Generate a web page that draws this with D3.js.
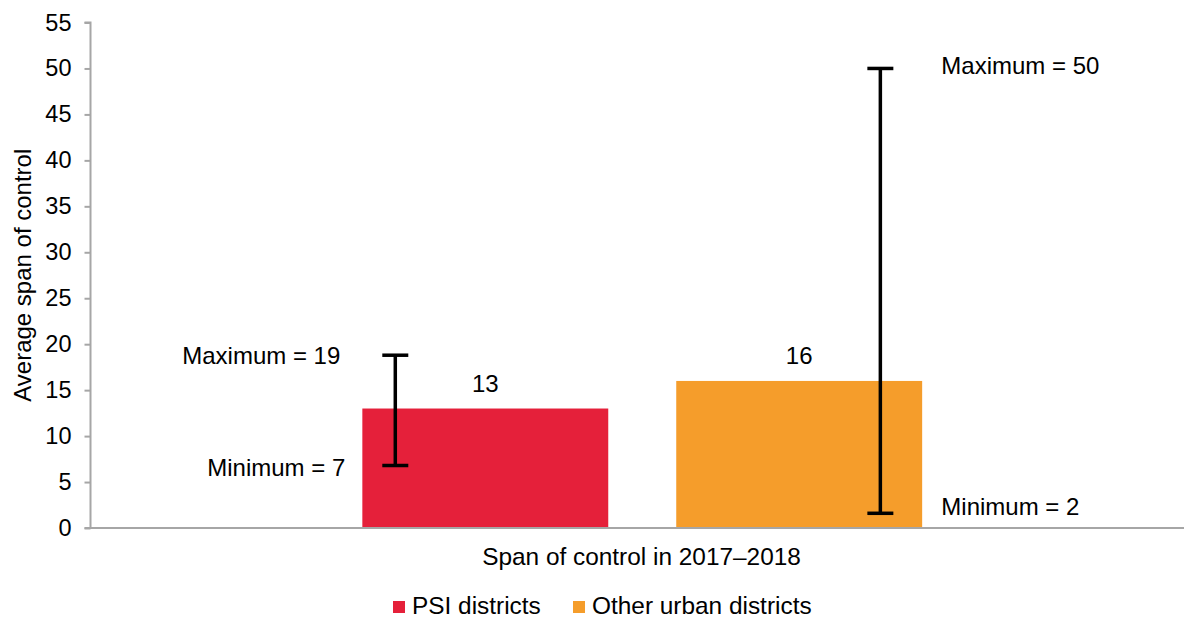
<!DOCTYPE html>
<html>
<head>
<meta charset="utf-8">
<script src="https://cdn.jsdelivr.net/npm/d3@7"></script>
<style>
  html, body { margin: 0; padding: 0; background: #fff; }
  svg text { font-family: "Liberation Sans", Arial, sans-serif; fill: #000; }
</style>
</head>
<body>
<svg id="chart" width="1184" height="619"></svg>
<script>
// ---- data ----
const categories = ["Span of control in 2017–2018"];
const seriesNames = ["PSI districts", "Other urban districts"];
const seriesValues = [13, 16];
const seriesMin = [6.8, 1.6];
const seriesMax = [18.8, 50];
const minLabels = ["Minimum = 7", "Minimum = 2"];
const maxLabels = ["Maximum = 19", "Maximum = 50"];
const yTicks = [0, 5, 10, 15, 20, 25, 30, 35, 40, 45, 50, 55];
const colors = ["#E5203A", "#F59D2B"];

const svg = d3.select("#chart");
const FS = 24;
const axisColor = "#a6a6a6";

const y = d3.scaleLinear().domain([0, 55]).range([528, 22.5]);
const x0 = d3.scaleBand().domain(categories).range([90.5, 1194]);
const x1 = d3.scaleBand().domain(seriesNames).range([0, x0.bandwidth()])
  .paddingInner(0.2166).paddingOuter(0.866);

// error bar horizontal placement within each bar (fraction of bar width)
const errFrac = [0.134, 0.83];

// y axis
const yAxis = d3.axisLeft(y).tickValues(yTicks).tickSize(6).tickPadding(13);
const gy = svg.append("g").attr("transform", "translate(90.5,0)").call(yAxis);
gy.select(".domain").attr("stroke", axisColor).attr("stroke-width", 2)
  .attr("d", `M-6,${y(55)}H0V${y(0)}`);
gy.selectAll(".tick line").attr("stroke", axisColor).attr("stroke-width", 2);
gy.selectAll(".tick text").style("font-size", "23.5px")
  .style("font-family", "'Liberation Sans', Arial, sans-serif").attr("fill", "#000");

// bars
const data = seriesNames.map((s, i) => ({
  name: s, value: seriesValues[i], min: seriesMin[i], max: seriesMax[i],
  minLabel: minLabels[i], maxLabel: maxLabels[i], color: colors[i], i
}));
const g = svg.append("g").attr("transform", `translate(${x0(categories[0])},0)`);

g.selectAll("rect.bar").data(data).join("rect")
  .attr("class", "bar")
  .attr("x", d => x1(d.name))
  .attr("width", x1.bandwidth())
  .attr("y", d => y(d.value))
  .attr("height", d => y(0) - y(d.value))
  .attr("fill", d => d.color);

// baseline (x axis)
svg.append("line").attr("x1", 84.5).attr("x2", 1184).attr("y1", y(0)).attr("y2", y(0))
  .attr("stroke", axisColor).attr("stroke-width", 2);

// value labels
g.selectAll("text.val").data(data).join("text")
  .attr("class", "val")
  .attr("x", d => x1(d.name) + x1.bandwidth() / 2)
  .attr("y", d => y(d.value) - 17)
  .attr("text-anchor", "middle")
  .style("font-size", FS + "px")
  .text(d => d.value);

// error bars
const ex = d => x1(d.name) + x1.bandwidth() * errFrac[d.i];
const capW = 13;
const eg = g.selectAll("g.err").data(data).join("g").attr("class", "err");
eg.append("line").attr("x1", ex).attr("x2", ex)
  .attr("y1", d => y(d.min)).attr("y2", d => y(d.max))
  .attr("stroke", "#000").attr("stroke-width", 3.5);
eg.append("line").attr("x1", d => ex(d) - capW).attr("x2", d => ex(d) + capW)
  .attr("y1", d => y(d.max)).attr("y2", d => y(d.max))
  .attr("stroke", "#000").attr("stroke-width", 3.5);
eg.append("line").attr("x1", d => ex(d) - capW).attr("x2", d => ex(d) + capW)
  .attr("y1", d => y(d.min)).attr("y2", d => y(d.min))
  .attr("stroke", "#000").attr("stroke-width", 3.5);

// min / max labels
// PSI: labels to the left of the error bar; Other: to the right
eg.append("text")
  .attr("x", d => d.i === 0 ? ex(d) - 55 : ex(d) + 61)
  .attr("y", d => y(d.max) + (d.i === 0 ? 9 : 6))
  .attr("text-anchor", d => d.i === 0 ? "end" : "start")
  .style("font-size", FS + "px")
  .text(d => d.maxLabel);
eg.append("text")
  .attr("x", d => d.i === 0 ? ex(d) - 50 : ex(d) + 61)
  .attr("y", d => y(d.min) + (d.i === 0 ? 10 : 2))
  .attr("text-anchor", d => d.i === 0 ? "end" : "start")
  .style("font-size", FS + "px")
  .text(d => d.minLabel);

// x axis category label
svg.append("text")
  .attr("x", 641.5)
  .attr("y", 565)
  .attr("text-anchor", "middle")
  .style("font-size", "24.4px")
  .text(categories[0]);

// y axis title
svg.append("text")
  .attr("transform", `translate(31,${(y(0) + y(55)) / 2}) rotate(-90)`)
  .attr("text-anchor", "middle")
  .style("font-size", FS + "px")
  .text("Average span of control");

// legend
const legendX = [393, 573];
const lg = svg.selectAll("g.leg").data(data).join("g").attr("class", "leg")
  .attr("transform", (d, i) => `translate(${legendX[i]},601)`);
lg.append("rect").attr("width", 12).attr("height", 12).attr("fill", d => d.color);
lg.append("text").attr("x", 19).attr("y", 13)
  .style("font-size", "24.4px").text(d => d.name);
</script>
</body>
</html>
